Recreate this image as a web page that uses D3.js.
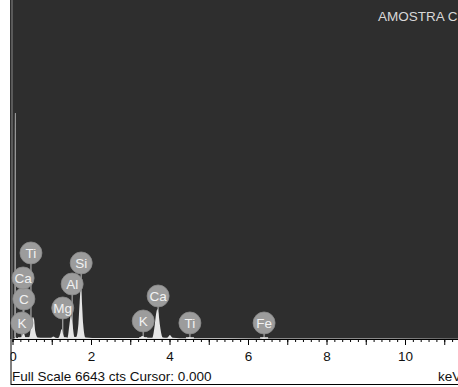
<!DOCTYPE html>
<html><head><meta charset="utf-8">
<script src="https://cdn.jsdelivr.net/npm/d3@7"></script>
<style>
html,body{margin:0;padding:0;background:#fff;overflow:hidden}
svg{display:block;font-family:Arial,"Liberation Sans",sans-serif}
</style></head>
<body>
<svg id="c" width="458" height="387"></svg>
<script>
// Spectrum (keV, counts)
const specEnergy = [0.00,0.05,0.058,0.062,0.078,0.082,0.15,0.22,0.28,0.34,0.42,0.47,0.50,0.52,0.55,0.58,0.64,0.80,0.98,1.04,1.10,1.17,1.22,1.25,1.28,1.33,1.40,1.45,1.49,1.53,1.58,1.62,1.68,1.71,1.74,1.77,1.80,1.86,2.2,3.0,3.22,3.31,3.40,3.56,3.62,3.66,3.69,3.72,3.76,3.83,3.94,4.01,4.08,4.45,4.51,4.57,6.34,6.40,6.46,8.0,12.0];
const specCounts = [0,10,30,4430,4430,30,20,30,110,30,30,200,380,430,380,150,30,25,25,50,25,20,120,196,120,25,25,280,470,280,40,40,300,700,960,700,300,30,20,20,20,60,25,25,250,500,590,500,250,30,25,80,25,15,35,15,12,30,12,8,5];

// Element markers
const markerLabels = ["K","C","Ca","Ti","Mg","Al","Si","K","Ca","Ti","Fe"];
const markerEnergy = [0.24,0.29,0.27,0.47,1.28,1.52,1.75,3.33,3.71,4.52,6.41];
const markerLevel  = [314,784,1196,1686,608,1078,1490,353,843,314,314];

const tickLabels = [0,2,4,6,8,10];
const fullScale = 6643;
const title = "AMOSTRA C";
const footer = "Full Scale 6643 cts Cursor: 0.000";
const cursorKeV = 0.0;

const svg = d3.select("#c");
const W = 458, H = 387, base = 339;
const x = d3.scaleLinear().domain([0,12]).range([12.5, 12.5 + 39.25*12]);
const y = d3.scaleLinear().domain([0, fullScale]).range([base, 0]);

svg.append("defs").append("clipPath").attr("id","pc")
  .append("rect").attr("x",10).attr("y",0).attr("width",W-10).attr("height",base);

svg.append("rect").attr("x",10).attr("y",0).attr("width",W-10).attr("height",base).attr("fill","#2e2e2e");

const g = svg.append("g").attr("clip-path","url(#pc)");

g.append("line").attr("x1",x(cursorKeV)-0.5).attr("x2",x(cursorKeV)-0.5).attr("y1",0).attr("y2",base)
  .attr("stroke","#6a6a6a").attr("stroke-width",1.5);

const R = 11;
markerLabels.forEach((t,i)=>{
  const cx = x(markerEnergy[i]), cy = y(markerLevel[i]);
  g.append("line").attr("x1",cx).attr("x2",cx).attr("y1",cy).attr("y2",base)
    .attr("stroke","#a8a8a8").attr("stroke-width",1.2);
  g.append("line").attr("x1",cx-4).attr("x2",cx+4).attr("y1",base-1).attr("y2",base-1)
    .attr("stroke","#b8b8b8").attr("stroke-width",2);
});

const pts = specEnergy.map((e,i)=>[e,specCounts[i]]);
const area = d3.area().x(d=>x(d[0])).y0(base).y1(d=>y(d[1])).curve(d3.curveMonotoneX);
g.append("path").datum(pts).attr("d",area).attr("fill","#e6e6e6");

markerLabels.forEach((t,i)=>{
  const cx = x(markerEnergy[i]), cy = y(markerLevel[i]);
  g.append("circle").attr("cx",cx).attr("cy",cy).attr("r",R)
    .attr("fill","#9c9c9c").attr("stroke","#8a8a8a").attr("stroke-width",0.8);
  g.append("text").attr("x",cx).attr("y",cy+5).attr("text-anchor","middle")
    .attr("font-size","13.5px").attr("fill","#f2f2f2").text(t);
});

svg.append("text").attr("x",378).attr("y",21).attr("font-size","13.5px").attr("fill","#d8d8d8").text(title);

const minor = d3.range(0, 12.01, 0.2).map(v=>+v.toFixed(1));
const axisMinor = d3.axisBottom(x).tickValues(minor).tickSize(3).tickFormat("");
const axG = svg.append("g").attr("transform",`translate(0,${base})`).call(axisMinor);
axG.select(".domain").attr("stroke","#000");
const axisMajor = d3.axisBottom(x).tickValues(d3.range(0,12,1)).tickSize(6).tickFormat("");
const axM = svg.append("g").attr("transform",`translate(0,${base})`).call(axisMajor);
axM.select(".domain").remove();
const axisLab = d3.axisBottom(x).tickValues(tickLabels).tickSize(0).tickPadding(12).tickFormat(d3.format("d"));
const axL = svg.append("g").attr("transform",`translate(0,${base})`).call(axisLab);
axL.select(".domain").remove();
axL.selectAll("text").attr("font-size","13.5px").attr("font-family","Arial,'Liberation Sans',sans-serif").attr("fill","#111");

svg.append("rect").attr("x",0).attr("y",base).attr("width",10.5).attr("height",H-base).attr("fill","#fff");
svg.append("line").attr("x1",11).attr("x2",11).attr("y1",base).attr("y2",385).attr("stroke","#000").attr("stroke-width",1);
svg.append("line").attr("x1",11).attr("x2",W).attr("y1",384.5).attr("y2",384.5).attr("stroke","#000").attr("stroke-width",1);

svg.append("text").attr("x",12).attr("y",381).attr("font-size","13.5px").attr("fill","#111").text(footer);
svg.append("text").attr("x",438).attr("y",381).attr("font-size","13.5px").attr("fill","#111").text("keV");
</script>
</body></html>
